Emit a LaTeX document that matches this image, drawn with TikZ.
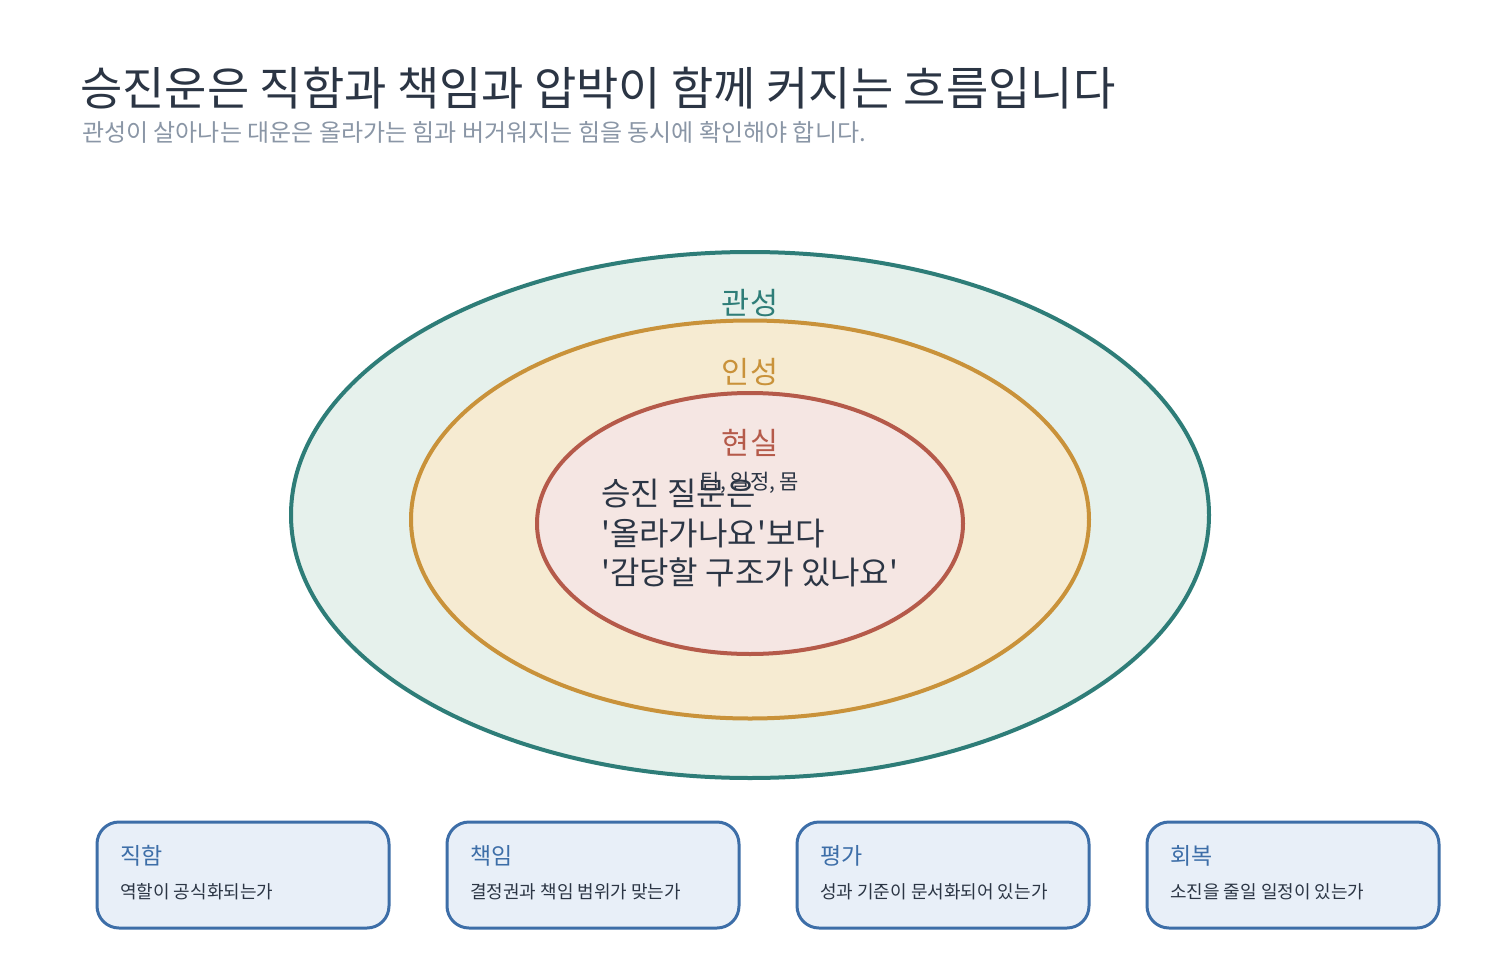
\documentclass[tikz,border=0pt]{standalone}
\usepackage{fontspec}
\setmainfont{Noto Sans CJK KR}[Ligatures=TeXOff]
\definecolor{ink}{HTML}{2B3544}
\definecolor{subgray}{HTML}{8A96A6}
\definecolor{teal}{HTML}{2E7D78}
\definecolor{tealfill}{HTML}{E6F1EC}
\definecolor{gold}{HTML}{C9923A}
\definecolor{goldfill}{HTML}{F6EBD2}
\definecolor{rust}{HTML}{B55A4A}
\definecolor{rustfill}{HTML}{F5E6E3}
\definecolor{blue}{HTML}{3D6EA8}
\definecolor{bluefill}{HTML}{E8EFF8}
\begin{document}
\begin{tikzpicture}[x=1pt,y=-1pt,
  lbl/.style={anchor=base,inner sep=0pt,font=\fontsize{30.5}{34}\selectfont},
  card/.style={draw=blue,fill=bluefill,line width=3pt,rounded corners=22pt},
  cardtitle/.style={anchor=base west,inner sep=0pt,text=blue,font=\fontsize{23}{27}\selectfont},
  cardbody/.style={anchor=base west,inner sep=0pt,text=ink,font=\fontsize{18}{22}\selectfont},
  qline/.style={anchor=base west,inner sep=0pt,text=ink,font=\fontsize{32}{36}\selectfont}]
\useasboundingbox (0,0) rectangle (1500,980);
\fill[white] (0,0) rectangle (1500,980);
% title
\node[anchor=base west,inner sep=0pt,text=ink,font=\fontsize{46}{52}\selectfont] (title) at (80,105) {승진운은 직함과 책임과 압박이 함께 커지는 흐름입니다};
\node[anchor=base west,inner sep=0pt,text=subgray,font=\fontsize{24}{28}\selectfont] (subtitle) at (82,141.5) {관성이 살아나는 대운은 올라가는 힘과 버거워지는 힘을 동시에 확인해야 합니다.};
% ellipses
\draw[teal,fill=tealfill,line width=4pt] (750,515) ellipse [x radius=459,y radius=263];
\draw[gold,fill=goldfill,line width=4pt] (750,519.5) ellipse [x radius=339,y radius=199];
\draw[rust,fill=rustfill,line width=4pt] (750,523.5) ellipse [x radius=213,y radius=130.5];
\node[lbl,text=teal] (gwan) at (750,314.5) {관성};
\node[lbl,text=gold] (in) at (750,383.5) {인성};
\node[lbl,text=rust] (hyeon) at (750,454.5) {현실};
\node[anchor=base,inner sep=0pt,text=ink,font=\fontsize{21}{24}\selectfont] (sub) at (750,489.5) {팀, 일정, 몸};
\node[qline] (q1) at (601,505.5) {승진 질문은};
\node[qline] (q2) at (601,545.5) {'올라가나요'보다};
\node[qline] (q3) at (601,584.5) {'감당할 구조가 있나요'};
% cards
\draw[card] (97,822) rectangle (389,928);
\draw[card] (447,822) rectangle (739,928);
\draw[card] (797,822) rectangle (1089,928);
\draw[card] (1147,822) rectangle (1439,928);
\node[cardtitle] (c1t) at (120,864.5) {직함};
\node[cardbody] (c1b) at (120,898.5) {역할이 공식화되는가};
\node[cardtitle] (c2t) at (470,864.5) {책임};
\node[cardbody] (c2b) at (470,898.5) {결정권과 책임 범위가 맞는가};
\node[cardtitle] (c3t) at (820,864.5) {평가};
\node[cardbody] (c3b) at (820,898.5) {성과 기준이 문서화되어 있는가};
\node[cardtitle] (c4t) at (1170,864.5) {회복};
\node[cardbody] (c4b) at (1170,898.5) {소진을 줄일 일정이 있는가};
\end{tikzpicture}
\end{document}
